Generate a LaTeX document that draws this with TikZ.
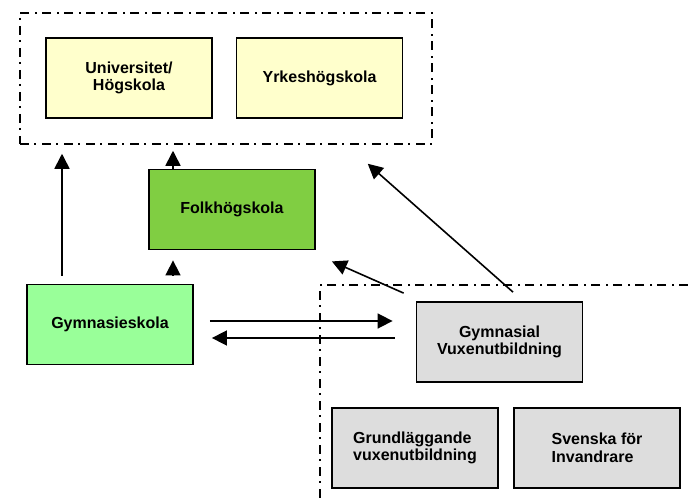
\documentclass[tikz,border=0pt]{standalone}
\usepackage{fontspec}
\setmainfont{Liberation Sans}
\usetikzlibrary{arrows.meta}
\definecolor{univ}{HTML}{FFFFCC}
\definecolor{folk}{HTML}{80CE42}
\definecolor{gym}{HTML}{99FF99}
\definecolor{vuxgrey}{HTML}{DDDDDD}

\begin{document}
\begin{tikzpicture}[x=1pt, y=-1pt,
    box/.style={draw, line width=1.8pt, minimum width=166pt, minimum height=80pt, inner sep=0pt,
      align=center, font=\bfseries\fontsize{16}{17.5}\selectfont},
    zone/.style={line width=1.5pt, dash pattern=on 9pt off 5pt on 2pt off 6pt},
    arr/.style={-{Triangle[length=15pt,width=15pt]}, line width=1.6pt}]
      \useasboundingbox (0,0) rectangle (688,503);
      % higher education
      \node[box, fill=univ] (univ) at (129,78) {Universitet/\\Högskola};
      \node[box, fill=univ] (yrkes) at (319.5,78) {Yrkeshögskola};
      \node[zone, draw, minimum width=412pt, minimum height=131pt] (higher) at (226,78.5) {};
      \node[box, fill=folk] (folk) at (232,209.5) {Folkhögskola};
      \node[box, fill=gym] (gym) at (110,324.5) {Gymnasieskola};
      % adult education
      \draw[zone] (688,285) -| (320,503);
      \node[box, fill=vuxgrey] (vux) at (499.5,342) {Gymnasial\\Vuxenutbildning};
      \node[box, fill=vuxgrey, align=left] (grund) at (415,448) {Grundläggande\\vuxenutbildning};
      \node[box, fill=vuxgrey, align=left] (sfi) at (597,448) {Svenska för\\Invandrare};
      % arrows
      \draw[arr] ([shift={(-48,-8)}]gym.north) -- ([shift={(-164,9)}]higher.south);
      \draw[arr] ([shift={(63,-8)}]gym.north) -- ([shift={(-59,10)}]folk.south);
      \draw[arr] ([shift={(-59,0)}]folk.north) -- ([shift={(-53,6)}]higher.south);
      \draw[arr] ([shift={(16,-3.5)}]gym.east) -- ([shift={(-23,-21)}]vux.west);
      \draw[arr] ([shift={(-21,-4)}]vux.west) -- ([shift={(18,13.5)}]gym.east);
      \draw[arr] ([shift={(-12,-8)}]vux.north west) -- ([shift={(16,11)}]folk.south east);
      \draw[arr] ([shift={(13.5,-9)}]vux.north) -- ([shift={(-65,19)}]higher.south east);
\end{tikzpicture}
\end{document}
